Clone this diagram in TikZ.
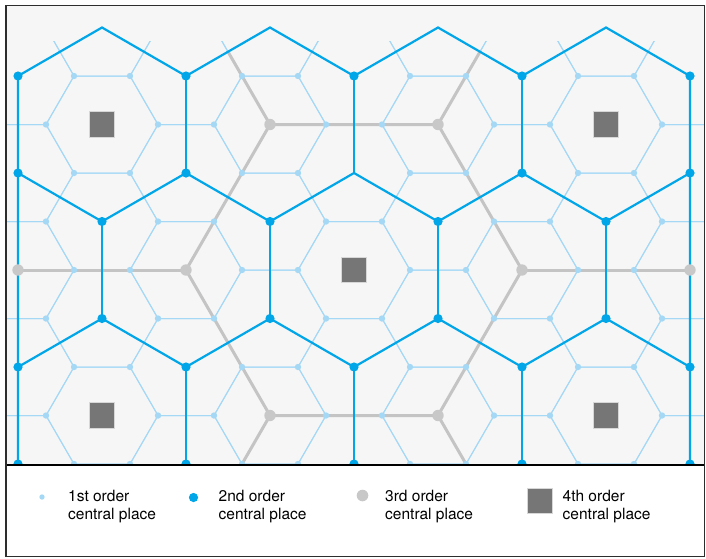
\documentclass[tikz,border=0pt]{standalone}
\usepackage{fontspec}
\setmainfont{TeX Gyre Heros}
\definecolor{lightblue}{RGB}{165,216,245}
\definecolor{midblue}{RGB}{0,166,232}
\definecolor{grayline}{RGB}{196,196,196}
\definecolor{graydot}{RGB}{200,200,200}
\definecolor{sqfill}{RGB}{118,118,118}
\definecolor{sqedge}{RGB}{215,215,215}
\definecolor{bgmap}{RGB}{246,246,246}
\definecolor{framec}{RGB}{45,45,45}
\begin{document}
\begin{tikzpicture}[x=1pt,y=-1pt,
  lightline/.style={draw=lightblue,line width=1pt},
  blueline/.style={draw=midblue,line width=2.2pt,line join=miter},
  grayl/.style={draw=grayline,line width=3pt},
  sqplace/.style={draw=sqedge,line width=0.8pt,fill=sqfill,minimum size=25.5pt,inner sep=0pt,rectangle},
  legtext/.style={anchor=base west,inner sep=0pt,font=\fontsize{15.5}{18}\selectfont,text=black}]
\useasboundingbox (0,0) rectangle (706,558);
\fill[bgmap] (6,5.5) rectangle (704.5,465);
\begin{scope}
  \clip (6,5.5) rectangle (704.5,465);
  % 1st order market areas
  \begin{scope}
    \clip (6,41) rectangle (704.5,465);
    \begin{scope}[shift={(354,270)},x=28pt,y=-48.5pt]
      \foreach \j in {-6,-4,...,6}{
        \foreach \i in {-4,-2,...,4}{
          \draw[lightline] ({3*\i+2},\j) -- ({3*\i+1},{\j+1}) -- ({3*\i-1},{\j+1}) -- ({3*\i-2},\j) -- ({3*\i-1},{\j-1}) -- ({3*\i+1},{\j-1}) -- cycle;
        }}
      \foreach \j in {-5,-3,...,5}{
        \foreach \i in {-5,-3,...,5}{
          \draw[lightline] ({3*\i+2},\j) -- ({3*\i+1},{\j+1}) -- ({3*\i-1},{\j+1}) -- ({3*\i-2},\j) -- ({3*\i-1},{\j-1}) -- ({3*\i+1},{\j-1}) -- cycle;
        }}
    \end{scope}
  \end{scope}
  \begin{scope}[shift={(354,270)},x=28pt,y=-48.5pt]
    % 3rd order network
    \draw[grayl] (6,0) -- (3,3) -- (-3,3) -- (-6,0) -- (-3,-3) -- (3,-3) -- cycle;
    \draw[grayl] (-12,0) -- (-6,0);
    \draw[grayl] (6,0) -- (12,0);
    \draw[grayl] (-3,-3) -- (-4.5,-4.5);
    \draw[grayl] (3,-3) -- (4.5,-4.5);
    \draw[grayl] (-3,3) -- (-5,5);
    \draw[grayl] (3,3) -- (5,5);
    % 2nd order network
    \draw[blueline] (-12,4.3) -- (-12,-4) -- (-9,-5) -- (-6,-4) -- (-3,-5) -- (0,-4) -- (3,-5) -- (6,-4) -- (9,-5) -- (12,-4) -- (12,4.3);
    \foreach \x in {-6,0,6}{\draw[blueline] (\x,-4) -- (\x,-2);}
    \draw[blueline] (-12,-2) -- (-9,-1) -- (-6,-2) -- (-3,-1) -- (0,-2) -- (3,-1) -- (6,-2) -- (9,-1) -- (12,-2);
    \foreach \x in {-9,-3,3,9}{\draw[blueline] (\x,-1) -- (\x,1);}
    \draw[blueline] (-12,2) -- (-9,1) -- (-6,2) -- (-3,1) -- (0,2) -- (3,1) -- (6,2) -- (9,1) -- (12,2);
    \foreach \x in {-6,0,6}{\draw[blueline] (\x,2) -- (\x,4.3);}
    % 1st order places
    \foreach \n in {-4,...,4}{
      \foreach \m in {-12,...,12}{
        \pgfmathtruncatemacro\pa{mod(abs(\m+\n),2)}
        \pgfmathtruncatemacro\pb{mod(abs(\m),3)}
        \ifnum\pa=0 \ifnum\pb>0 \fill[lightblue] (\m,\n) circle[radius=3.2pt]; \fi\fi
      }}
    % 3rd order places
    \foreach \p in {(-3,-3),(3,-3),(-6,0),(6,0),(-12,0),(12,0),(-3,3),(3,3)}{
      \fill[graydot] \p circle[radius=5.7pt];}
    % 2nd order places
    \foreach \n in {-4,-2,-1,1,2,4}{
      \foreach \i in {-4,...,4}{
        \pgfmathtruncatemacro\pa{mod(abs(\i+\n),2)}
        \pgfmathtruncatemacro\pc{(\i==0)&&(\n==-2)}
        \ifnum\pa=0 \ifnum\pc=0 \fill[midblue] ({3*\i},\n) circle[radius=4.6pt]; \fi\fi
      }}
    % 4th order places
    \node[sqplace] (q0) at (0,0) {};
    \node[sqplace] (q1) at (-9,-3) {};
    \node[sqplace] (q2) at (9,-3) {};
    \node[sqplace] (q3) at (-9,3) {};
    \node[sqplace] (q4) at (9,3) {};
  \end{scope}
\end{scope}
\draw[black,line width=1.5pt] (6,465) -- (704.5,465);
\draw[framec,line width=1.5pt] (6,5.5) rectangle (704.5,556.5);
% legend
\fill[lightblue] (42,497) circle[radius=2.7];
\node[legtext] (t1a) at (68,501) {1st order};
\node[legtext] (t1b) at (68,519) {central place};
\fill[midblue] (193.5,497.5) circle[radius=4.6];
\node[legtext] (t2a) at (218.5,501) {2nd order};
\node[legtext] (t2b) at (218.5,519) {central place};
\fill[graydot] (362.5,495.5) circle[radius=5.8];
\node[legtext] (t3a) at (385,501) {3rd order};
\node[legtext] (t3b) at (385,519) {central place};
\node[sqplace,minimum size=25pt] (lq) at (540,501) {};
\node[legtext] (t4a) at (562.5,501) {4th order};
\node[legtext] (t4b) at (562.5,519) {central place};
\end{tikzpicture}
\end{document}
